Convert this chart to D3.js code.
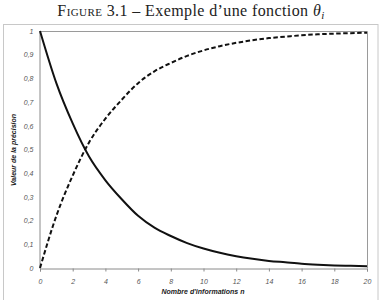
<!DOCTYPE html>
<html><head><meta charset="utf-8">
<script src="https://cdn.jsdelivr.net/npm/d3@7"></script>
<style>body{margin:0;background:#fff}svg{display:block}</style>
</head><body>
<script>
const nValues = [0,1,2,3,4,5,6,7,8,9,10,11,12,13,14,15,16,17,18,19,20];
const decreasing = [1,0.78,0.61,0.47,0.37,0.29,0.22,0.17,0.135,0.105,0.082,0.064,0.05,0.039,0.03,0.024,0.018,0.014,0.011,0.009,0.007];
const increasing = [0,0.22,0.39,0.53,0.63,0.71,0.78,0.83,0.865,0.895,0.918,0.936,0.95,0.961,0.97,0.976,0.982,0.986,0.989,0.991,0.993];
const xTicks = [0,2,4,6,8,10,12,14,16,18,20];
const yTicks = [0,0.1,0.2,0.3,0.4,0.5,0.6,0.7,0.8,0.9,1];
const yTickLabels = ["0","0,1","0,2","0,3","0,4","0,5","0,6","0,7","0,8","0,9","1"];

const W=383,H=300;
const svg=d3.select("body").append("svg").attr("width",W).attr("height",H);

// Title
const title=svg.append("text").attr("x",191).attr("y",15.5).attr("text-anchor","middle")
  .attr("font-family","'Liberation Serif','DejaVu Serif',serif").attr("font-size",16)
  .attr("letter-spacing",0.4).attr("fill","#222");
title.append("tspan").attr("font-variant","small-caps").text("Figure 3.1");
title.append("tspan").text(" – Exemple d’une fonction ");
title.append("tspan").attr("font-style","italic").text("θ");
title.append("tspan").attr("font-style","italic").attr("font-size",11).attr("dy",3).text("i");

// outer frame
svg.append("rect").attr("x",3.5).attr("y",24.5).attr("width",374.5).attr("height",290)
  .attr("fill","none").attr("stroke","#c8c8c8").attr("stroke-width",1);

const m={l:40,r:367,t:31,b:268};
const x=d3.scaleLinear().domain([0,20]).range([m.l,m.r]);
const y=d3.scaleLinear().domain([0,1]).range([m.b,m.t]);

// plot border (top and right)
svg.append("path").attr("d",`M${m.l},${m.t+0.5}H${m.r+0.5}V${m.b}`)
  .attr("fill","none").attr("stroke","#9a9a9a").attr("stroke-width",1);

// axes
const xa=svg.append("g").attr("transform",`translate(0,${m.b+0.5})`)
  .call(d3.axisBottom(x).tickValues(xTicks).tickSize(3).tickFormat(d=>d));
const ya=svg.append("g").attr("transform",`translate(${m.l-0.5},0)`)
  .call(d3.axisLeft(y).tickValues(yTicks).tickSize(0).tickPadding(6).tickFormat((d,i)=>yTickLabels[i]));
[xa,ya].forEach(g=>{
  g.select(".domain").attr("stroke","#8a8a8a");
  g.selectAll(".tick line").attr("stroke","#8a8a8a");
  g.selectAll("text").attr("font-family","'Liberation Sans',Arial,sans-serif").attr("font-style","italic")
   .attr("font-size",7).attr("fill","#555");
});
xa.selectAll("text").attr("dy","1.3em");

// lines
const line=d3.line().x((d,i)=>x(nValues[i])).y(d=>y(d)).curve(d3.curveMonotoneX);
svg.append("path").datum(decreasing).attr("d",line).attr("fill","none").attr("stroke","#111").attr("stroke-width",2);
svg.append("path").datum(increasing).attr("d",line).attr("fill","none").attr("stroke","#111").attr("stroke-width",2)
  .attr("stroke-dasharray","4.5,2.5");

// axis titles
svg.append("text").attr("x",203).attr("y",294).attr("text-anchor","middle")
  .attr("font-family","'Liberation Sans',Arial,sans-serif").attr("font-style","italic").attr("font-weight","bold")
  .attr("font-size",7).attr("fill","#222").text("Nombre d'informations n");
svg.append("text").attr("transform","translate(16,150) rotate(-90)").attr("text-anchor","middle")
  .attr("font-family","'Liberation Sans',Arial,sans-serif").attr("font-style","italic").attr("font-weight","bold")
  .attr("font-size",7).attr("fill","#222").text("Valeur de la précision");
</script>
</body></html>
